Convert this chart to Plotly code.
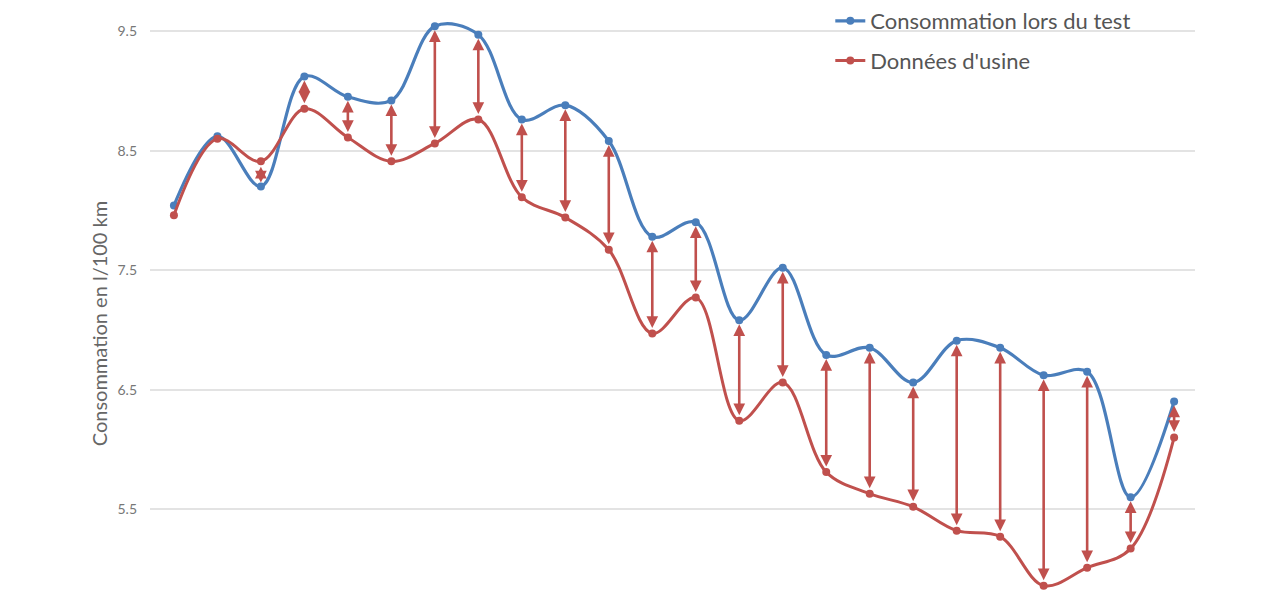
import plotly.graph_objects as go

# index positions of the measurements (no category labels shown)
points = list(range(24))
test_values = [8.04, 8.62, 8.20, 9.12, 8.95, 8.92, 9.54, 9.47, 8.76, 8.88, 8.58, 7.78,
               7.90, 7.08, 7.52, 6.79, 6.85, 6.56, 6.91, 6.85, 6.62, 6.65, 5.60, 6.40]
factory_values = [7.96, 8.60, 8.41, 8.85, 8.61, 8.41, 8.56, 8.76, 8.11, 7.94, 7.67, 6.97,
                  7.27, 6.24, 6.56, 5.81, 5.63, 5.52, 5.32, 5.27, 4.86, 5.01, 5.17, 6.10]
y_ticks = [5.5, 6.5, 7.5, 8.5, 9.5]

BLUE = "#4A7EBB"
RED = "#C0504D"

fig = go.Figure()
fig.add_trace(go.Scatter(
    x=points, y=test_values, name="Consommation lors du test",
    mode="lines+markers", line=dict(color=BLUE, width=3.2, shape="spline", smoothing=1.0),
    marker=dict(color=BLUE, size=8), legendgroup="a", hoverinfo="skip"))
fig.add_trace(go.Scatter(
    x=points, y=factory_values, name="Données d'usine",
    mode="lines+markers", line=dict(color=RED, width=3, shape="spline", smoothing=1.0),
    marker=dict(color=RED, size=8), legendgroup="b", hoverinfo="skip"))

for xi, t, f in zip(points, test_values, factory_values):
    fig.add_annotation(
        x=xi, y=t, ax=xi, ay=f, xref="x", yref="y", axref="x", ayref="y",
        text="", showarrow=True, arrowhead=2, startarrowhead=2, arrowside="end+start",
        arrowsize=0.9, startarrowsize=0.9, arrowwidth=2.6, arrowcolor=RED,
        standoff=4, startstandoff=4)

fig.add_annotation(
    text="Consommation en l/100 km", xref="paper", yref="paper",
    x=-0.048, y=0.461, xanchor="center", yanchor="middle", textangle=-90,
    showarrow=False, font=dict(size=20, color="#666666", family="Lato, sans-serif"))

fig.update_layout(
    width=1280, height=600,
    margin=dict(l=150, r=85, t=0, b=0),
    paper_bgcolor="white", plot_bgcolor="white",
    font=dict(family="Lato, sans-serif", color="#666666"),
    showlegend=True,
    legend=dict(x=0.651, y=1.0, xanchor="left", yanchor="top",
                font=dict(size=22, color="#555555"), tracegroupgap=8,
                bgcolor="rgba(0,0,0,0)", itemwidth=30),
    xaxis=dict(range=[-0.55, 23.48], showgrid=False, showticklabels=False,
               zeroline=False, showline=False, ticks=""),
    yaxis=dict(range=[4.74, 9.76], tickvals=y_ticks, ticktext=[str(v) for v in y_ticks],
               showgrid=True, gridcolor="#E3E3E3", gridwidth=1.5, zeroline=False,
               showline=False, ticks="", tickfont=dict(size=14, color="#777777"),
               ticklabelstandoff=12),
)

fig.write_html("out.html")
